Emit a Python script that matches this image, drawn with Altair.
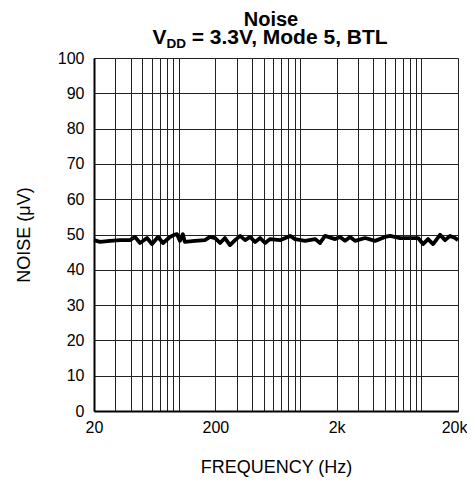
import altair as alt
import pandas as pd

# --- data ---
freq_hz = [20, 22.4, 27.1, 32.8, 39.6, 43.6, 47.9, 54.7, 60.1, 67.4, 74.1, 84.6, 91.4, 96.6,
           102, 108, 112, 136, 164, 181, 199, 219, 240, 264, 291, 320, 352, 387, 425, 468,
           514, 565, 683, 826, 908, 1097, 1327, 1459, 1604, 1941, 2134, 2346, 2579, 2835,
           3427, 4143, 5010, 5508, 6659, 8051, 9378, 10310, 11334, 12460, 14230, 15660,
           17220, 18930, 20000]
noise_uv = [48.4, 47.9, 48.2, 48.4, 48.4, 49.3, 47.6, 49.0, 47.3, 49.3, 47.6, 49.3, 49.9, 50.1,
            48.2, 50.1, 47.9, 48.2, 48.4, 49.3, 49.0, 47.6, 49.0, 47.0, 48.4, 49.6, 48.4, 49.3,
            47.9, 49.0, 47.6, 48.7, 48.4, 49.6, 48.7, 48.2, 48.7, 47.6, 49.6, 48.7, 49.3, 48.2,
            49.3, 48.2, 49.0, 48.2, 49.3, 49.6, 49.0, 49.0, 49.0, 47.3, 48.7, 47.3, 49.9, 48.4,
            49.6, 49.0, 48.4]

x_grid_values = [20, 30, 40, 50, 60, 70, 80, 90, 100,
                 200, 300, 400, 500, 600, 700, 800, 900, 1000,
                 2000, 3000, 4000, 5000, 6000, 7000, 8000, 9000, 10000, 20000]
x_label_values = [20, 200, 2000, 20000]
x_label_texts = ["20", "200", "2k", "20k"]
y_values = [0, 10, 20, 30, 40, 50, 60, 70, 80, 90, 100]

title_line1 = "Noise"
title_v = "V"
title_sub = "DD"
title_rest = "= 3.3V, Mode 5, BTL"
x_title = "FREQUENCY (Hz)"
y_title = "NOISE (\u03bcV)"

df = pd.DataFrame({"f": freq_hz, "n": noise_uv})

label_expr = " : ".join(
    f"datum.value == {v} ? '{t}'" for v, t in zip(x_label_values, x_label_texts)
) + " : ''"

W, H = 364, 353
FONT = "Liberation Sans"

last_x = x_label_values[-1]

line = alt.Chart(df).mark_line(color="black", strokeWidth=3.8, strokeJoin="round").encode(
    x=alt.X("f:Q", scale=alt.Scale(type="log", domain=[20, 20000], nice=False),
            axis=alt.Axis(values=x_grid_values, labelExpr=label_expr, grid=True,
                          gridColor="#222222", gridWidth=1, ticks=False,
                          domainColor="black", domainWidth=2,
                          labelFont=FONT, labelFontSize=16, labelColor="black",
                          labelPadding=8, labelFlush=False, labelOverlap=False,
                          labelAlign={"condition": {"test": f"datum.value == {last_x}",
                                                    "value": "right"},
                                      "value": "center"},
                          labelOffset={"condition": {"test": f"datum.value == {last_x}",
                                                     "value": 9},
                                       "value": 0},
                          title=x_title, titleFont=FONT, titleFontSize=18,
                          titleFontWeight="normal", titleColor="black", titlePadding=23)),
    y=alt.Y("n:Q", scale=alt.Scale(domain=[0, 100], nice=False),
            axis=alt.Axis(values=y_values, grid=True, gridColor="#222222", gridWidth=1,
                          ticks=False, domainColor="black", domainWidth=2,
                          labelFont=FONT, labelFontSize=16, labelColor="black",
                          labelPadding=10,
                          title=y_title, titleFont=FONT, titleFontSize=18,
                          titleFontWeight="normal", titleColor="black", titlePadding=24)),
)

fs = 21
fs_sub = 13.5
cx = W / 2 - 5
t1 = alt.Chart(pd.DataFrame({"t": [title_line1]})).mark_text(
    font=FONT, fontSize=20, fontWeight="bold", align="center",
    baseline="alphabetic", color="black").encode(
    text="t:N", x=alt.value(cx), y=alt.value(-32))

# second title line with subscript, assembled from three pieces
w_v = 0.667 * fs
w_sub = 1.444 * fs_sub
w_space = 0.278 * fs
w_rest = 9.42 * fs
start = cx - (w_v + w_sub + w_space + w_rest) / 2
tv = alt.Chart(pd.DataFrame({"t": [title_v]})).mark_text(
    font=FONT, fontSize=fs, fontWeight="bold", align="left", baseline="alphabetic",
    color="black").encode(text="t:N", x=alt.value(start), y=alt.value(-14))
tsub = alt.Chart(pd.DataFrame({"t": [title_sub]})).mark_text(
    font=FONT, fontSize=fs_sub, fontWeight="bold", align="left", baseline="alphabetic",
    color="black").encode(text="t:N", x=alt.value(start + w_v), y=alt.value(-10))
trest = alt.Chart(pd.DataFrame({"t": [title_rest]})).mark_text(
    font=FONT, fontSize=fs, fontWeight="bold", align="left", baseline="alphabetic",
    color="black").encode(text="t:N", x=alt.value(start + w_v + w_sub + w_space),
                          y=alt.value(-14))

chart = alt.layer(line, t1, tv, tsub, trest).properties(
    width=W, height=H,
    autosize=alt.AutoSizeParams(type="none"),
    padding={"left": 86, "top": 50, "right": 9, "bottom": 66},
).configure_view(stroke="black", strokeWidth=2).configure(background="white")

chart.save("out.html", embed_options={"renderer": "svg", "actions": False})
